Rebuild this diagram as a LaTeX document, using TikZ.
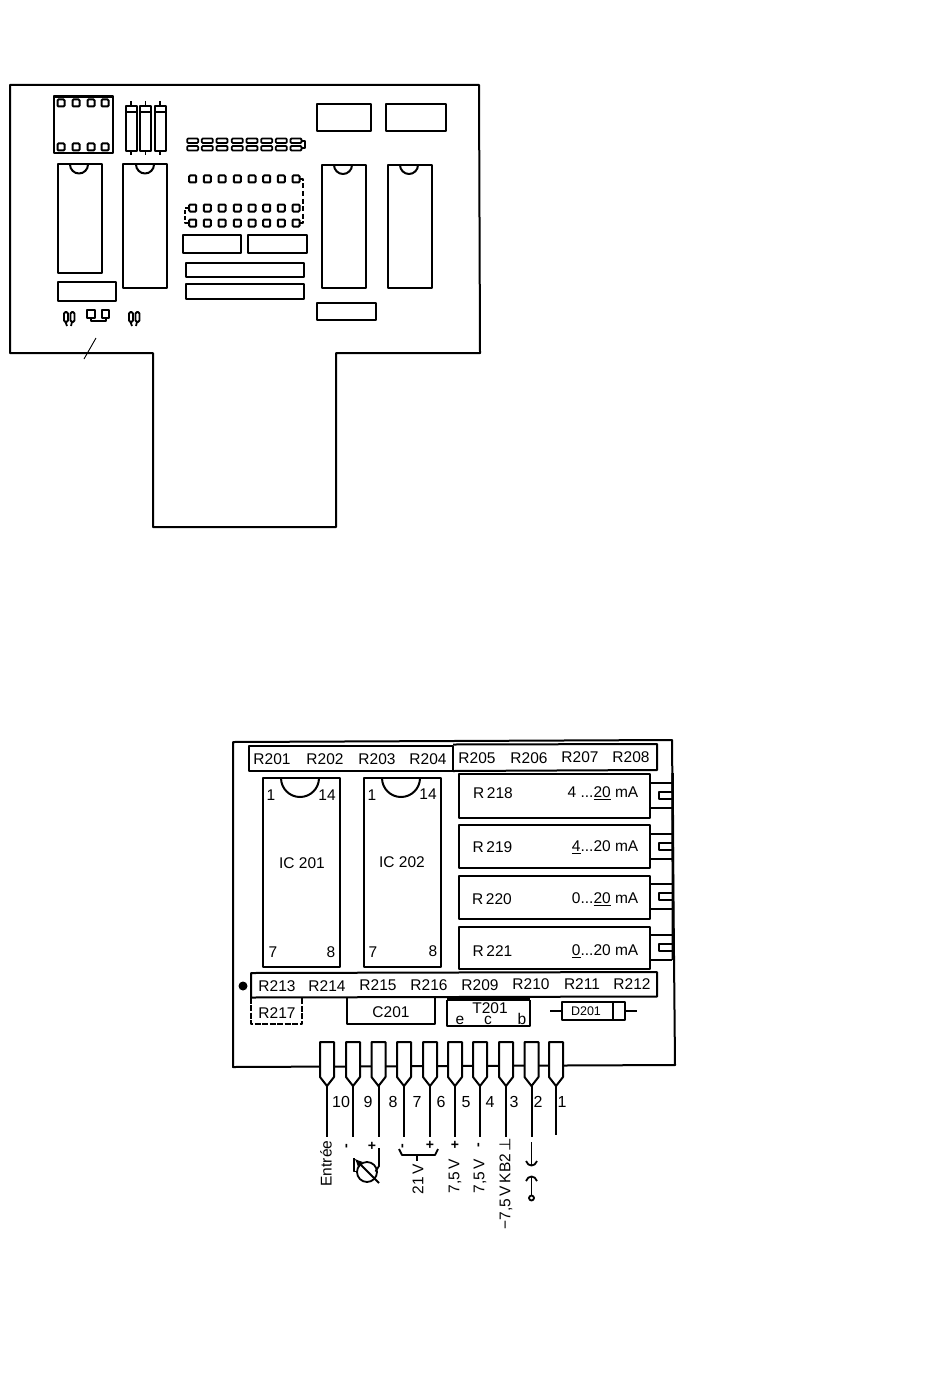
\documentclass[tikz,border=0pt]{standalone}
\usepackage{fontspec}
\setmainfont{Liberation Sans}
\newfontfamily\symf{DejaVu Sans}
\usetikzlibrary{arrows.meta}
\tikzset{
 ln/.style={draw=black,line width=2pt,line join=round},
 thin ln/.style={draw=black,line width=1.8pt,line join=round},
 pad/.style={draw=black,line width=2pt,rounded corners=1pt},
 lab/.style={font=\fontsize{15.5}{15.5}\selectfont,inner sep=0pt,text=black},
 numlab/.style={font=\fontsize{16}{16}\selectfont,inner sep=0pt,text=black},
 smalllab/.style={font=\fontsize{12.5}{13}\selectfont,inner sep=0pt,text=black},
 sign/.style={font=\bfseries\fontsize{14}{14}\selectfont,inner sep=0pt,text=black},
 rot/.style={lab,rotate=90},
}
\newcommand{\sqpad}[2]{\draw[pad] (#1-3.5,#2-3.5) rectangle (#1+3.5,#2+3.5);}
\newcommand{\ICtop}[6]{% x1 y1 x2 y2 notchx r
 \draw[ln] (#5-#6,#2) arc[start angle=180,end angle=360,x radius=#6pt,y radius=#6pt];
 \draw[ln] (#1,#2) rectangle (#3,#4);}
\newcommand{\resi}[1]{%
 \draw[ln] (#1-5.5,106) rectangle (#1+5.5,151);
 \draw[thin ln] (#1-5.5,112) -- (#1+5.5,112);
 \draw[thin ln] (#1,101) -- (#1,106) (#1,151) -- (#1,155);}
\newcommand{\cappair}[1]{%
 \draw[thin ln,rounded corners=1pt] (#1-5.5,138.5) rectangle (#1+5.5,143);
 \draw[thin ln,rounded corners=1pt] (#1-5.5,146) rectangle (#1+5.5,150.5);}
\newcommand{\qq}[1]{%
 \draw[thin ln,rounded corners=1.5pt] (#1,312) rectangle (#1+4,322);
 \draw[thin ln,rounded corners=1.5pt] (#1+6.5,312) rectangle (#1+10.5,322);
 \draw[thin ln] (#1+1.5,322) -- (#1+3,326) (#1+8,322) -- (#1+7,326);}
\newcommand{\tab}[1]{%
 \draw[ln] (650,#1+10) -- (672,#1+10) (650,#1+35) -- (672,#1+35);
 \draw[ln] (672,#1+19) -- (659,#1+19) -- (659,#1+26) -- (672,#1+26);}
\newcommand{\pin}[2]{%
 \draw[ln,fill=white] (#1-7,1042) -- (#1+7,1042) -- (#1+7,1077) -- (#1,1086) -- (#1-7,1077) -- cycle;
 \draw[ln] (#1,1086) -- (#1,#2);}
\begin{document}
\begin{tikzpicture}[x=1pt,y=-1pt]
\useasboundingbox[fill=white] (0,0) rectangle (950,1399);
% ---------- upper board
\draw[ln] (10,85) -- (479,85) -- (480,353) -- (336,353) -- (336,527) -- (153,527) -- (153,353) -- (10,353) -- cycle;
\draw[ln] (54,96.5) rectangle (112.5,153);
\draw[line width=3pt] (54,97) -- (112.5,97);
\foreach \x in {61,76,91,105}{\sqpad{\x}{103}\sqpad{\x}{147}}
\resi{131}\resi{145.5}\resi{160}
\ICtop{57.5}{164.5}{101.5}{273}{79}{9}
\ICtop{123}{164.5}{167}{288}{145}{9}
\draw[ln] (57.5,282) rectangle (116,300.5);
\qq{64}\qq{129}
\draw[thin ln] (87,310) rectangle (95,318);
\draw[thin ln] (102,310) rectangle (109,318);
\draw[thin ln] (91,318) -- (91,321) -- (106,321) -- (106,318);
\draw[line width=0.9pt] (96,338) -- (84,359);
\foreach \x in {192.7,207.3,222,237.3,252,266.7,281.3,296}{\cappair{\x}}
\draw[thin ln] (301,141) -- (305,141) -- (305,148) -- (301,148);
\foreach \x in {192.7,207.3,222,237.3,252,266.7,281.3,296}{\sqpad{\x}{179}\sqpad{\x}{208}\sqpad{\x}{223}}
\draw[thin ln,dash pattern=on 5pt off 2.5pt] (300,179) -- (303,179) -- (303,223) -- (300,223);
\draw[thin ln,dash pattern=on 4pt off 2pt] (189,208) -- (185,208) -- (185,223) -- (189,223);
\draw[ln] (182.5,235) rectangle (241,253);
\draw[ln] (248,235) rectangle (307,253);
\draw[ln] (186,262.5) rectangle (303.5,277);
\draw[ln] (186,284) rectangle (303.5,298.5);
\draw[ln] (316.5,104) rectangle (370.5,131);
\draw[ln] (386,104) rectangle (446,131);
\ICtop{322}{165}{366}{288}{343}{9}
\ICtop{388}{165}{432}{288}{409}{9}
\draw[ln] (317,303) rectangle (375.5,320);
% ---------- lower board
\draw[ln] (233,742) -- (672,740) -- (675,1065) -- (233,1067) -- cycle;
\draw[line width=2.6pt] (672.6,773) -- (673,960);
\draw[ln] (249,746) rectangle (453,771);
\draw[ln] (453,744.5) -- (657,744) -- (657,770) -- (453,771);
\foreach \t/\x/\y in {R201/272/759,R202/325/759,R203/377/759,R204/428/759,R205/477/758,R206/529/758,R207/580/757,R208/631/757}{\node[lab] (n\t) at (\x,\y) {\t};}
\ICtop{262.5}{778}{340}{967}{300}{19}
\ICtop{364}{778}{441}{967}{401}{19}
\node[lab] (a1) at (271,795) {1};
\node[lab] (a14) at (327,795) {14};
\node[lab] (ic1) at (302,863) {IC 201};
\node[lab] (a7) at (273,952) {7};
\node[lab] (a8) at (331,952) {8};
\node[lab] (b1) at (372,795) {1};
\node[lab] (b14) at (428,794) {14};
\node[lab] (ic2) at (402,862) {IC 202};
\node[lab] (b7) at (373,952) {7};
\node[lab] (b8) at (433,951) {8};
\draw[ln] (459,773.5) rectangle (650,818);
\draw[ln] (459,825) rectangle (650,868);
\draw[ln] (459,875.5) rectangle (650,919);
\draw[ln] (459,926.5) rectangle (650,969);
\tab{773}\tab{823.5}\tab{874}\tab{925}
\node[lab] (r218) at (493,793) {R\,218};
\node[lab] (r219) at (492.5,847) {R\,219};
\node[lab] (r220) at (492,899) {R\,220};
\node[lab] (r221) at (492.5,951.5) {R\,221};
\node[lab,anchor=east] (v1) at (638.5,793.5) {4 ...\underline{20} mA};
\node[lab,anchor=east] (v2) at (638.5,847) {\underline{4}...20 mA};
\node[lab,anchor=east] (v3) at (638.5,899) {0...\underline{20} mA};
\node[lab,anchor=east] (v4) at (638.5,951.5) {\underline{0}...20 mA};
\fill (243,986) circle (4.5pt);
\draw[ln] (251,973) -- (657,972) -- (657,996.5) -- (251,997.5) -- cycle;
\foreach \t/\x/\y in {R213/277/986,R214/327/986,R215/378/985,R216/429/985,R209/480/985,R210/531/984,R211/582/984,R212/632/984}{\node[lab] (n\t) at (\x,\y) {\t};}
\draw[ln,dash pattern=on 6pt off 1.5pt] (251,997.5) -- (251,1024) -- (302,1024) -- (302,997.5);
\node[lab] (r217) at (277,1013) {R217};
\draw[ln] (346.5,997) -- (346.5,1024) -- (435,1024) -- (435,997);
\node[lab] (c201) at (391,1012) {C201};
\draw[ln] (447,1000) -- (447,1026) -- (530,1026) -- (530,1000);
\draw[line width=3.5pt] (447,999) -- (530,999);
\node[lab] (t201) at (490,1008.5) {T201};
\node[lab] (te) at (460,1020) {e};
\node[lab] (tc) at (488,1020.5) {c};
\node[lab] (tb) at (522,1019) {b};
\draw[ln] (562,1002) rectangle (625,1019.5);
\draw[ln] (613,1002) -- (613,1019.5);
\draw[ln] (550,1010.5) -- (562,1010.5) (625,1010.5) -- (637,1010.5);
\node[smalllab] (d201) at (586,1011) {D201};
\foreach \x/\e in {327/1137,353/1137,378.5/1137,404/1137,430/1137,455/1137,480/1137,506/1137,531.5/1137,556/1135}{\pin{\x}{\e}}
\foreach \t/\x in {10/341,9/368,8/393,7/417,6/441,5/466,4/490,3/514,2/538,1/562}{\node[numlab] (p\t) at (\x,1102) {\t};}
\node[rot] (entree) at (326,1163.5) {Entrée};
\node[sign,rotate=90] (m1) at (348,1146) {-};
\node[sign] (m2) at (372,1146) {+};
\draw[thin ln] (367,1172) circle (10pt);
\draw[thin ln] (354,1158) -- (354,1171.5) -- (358,1171.5);
\draw[thin ln] (379,1148) -- (379,1166) -- (375.5,1171.5);
\draw[thin ln,{Latex[length=8pt,width=7pt]}-] (354.5,1158.5) -- (379,1183);
\node[sign,rotate=90] (m3) at (404,1146) {-};
\node[sign] (m4) at (430,1145) {+};
\draw[thin ln] (399,1149) -- (402,1155) -- (435,1155) -- (438,1149);
\draw[thin ln] (417,1155) -- (417,1161);
\node[rot] (v21) at (418,1179) {21\,V};
\node[sign] (m5) at (455,1145) {+};
\node[sign,rotate=90] (m6) at (480,1145) {-};
\node[rot] (v75a) at (455,1176) {7,5\,V};
\node[rot] (v75b) at (480,1176) {7,5\,V};
\node[rot] (v75c) at (506,1183.5) {−7,5\,V\,KB2\,{\symf ⊥}};
\draw[thin ln] (531.5,1142) -- (531.5,1165);
\draw[thin ln] (531.5,1177) -- (531.5,1195);
\draw[thin ln] (526,1161) .. controls (528,1167) and (535,1167) .. (537,1161);
\draw[thin ln] (526,1181) .. controls (528,1175) and (535,1175) .. (537,1181);
\draw[thin ln] (531.5,1198) circle (2.5pt);
\end{tikzpicture}
\end{document}
